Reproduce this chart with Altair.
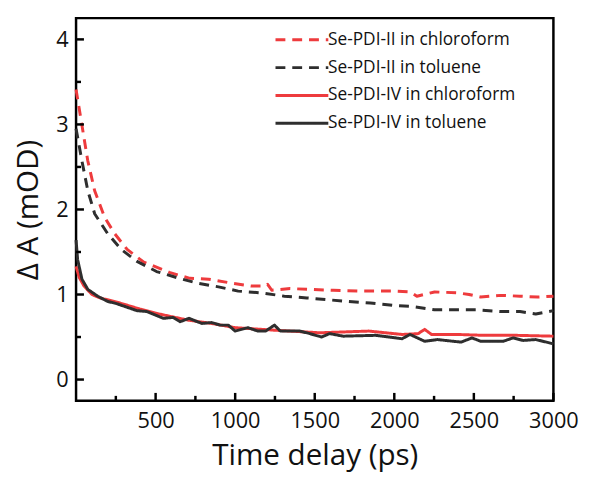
import altair as alt
import pandas as pd

# ---- data ----
series_names = ["Se-PDI-II in chloroform", "Se-PDI-II in toluene",
                "Se-PDI-IV in chloroform", "Se-PDI-IV in toluene"]

t_ii_chl = [0, 37, 74, 117, 179, 241, 321, 426, 549, 586, 716, 833, 957, 1100, 1190, 1204,
            1230, 1345, 1469, 1617, 1800, 2006, 2100, 2142, 2253, 2395, 2470, 2543, 2667,
            2790, 2900, 3000]
v_ii_chl = [3.41, 2.99, 2.57, 2.22, 1.91, 1.72, 1.53, 1.38, 1.29, 1.26, 1.19, 1.18, 1.14, 1.10,
            1.10, 1.12, 1.05, 1.07, 1.06, 1.05, 1.04, 1.04, 1.03, 0.98, 1.03, 1.02, 1.00, 0.97,
            0.99, 0.98, 0.97, 0.98]
t_ii_tol = [0, 37, 74, 117, 197, 284, 383, 506, 648, 772, 895, 1019, 1160, 1309, 1450, 1574,
            1698, 1850, 2006, 2111, 2253, 2518, 2667, 2790, 2889, 3000]
v_ii_tol = [2.95, 2.57, 2.22, 1.95, 1.72, 1.53, 1.39, 1.27, 1.19, 1.13, 1.09, 1.04, 1.02, 0.98,
            0.96, 0.94, 0.92, 0.90, 0.87, 0.86, 0.82, 0.82, 0.80, 0.80, 0.77, 0.81]
t_iv_chl = [0, 20, 50, 100, 150, 257, 400, 500, 700, 850, 1000, 1250, 1531, 1840, 2049, 2150,
            2191, 2234, 2400, 2562, 2765, 3000]
v_iv_chl = [1.33, 1.20, 1.10, 1.00, 0.96, 0.91, 0.83, 0.78, 0.70, 0.66, 0.61, 0.58, 0.55, 0.57,
            0.53, 0.54, 0.59, 0.53, 0.53, 0.52, 0.52, 0.51]
t_iv_tol = [0, 10, 37, 74, 136, 197, 259, 383, 444, 549, 611, 654, 710, 790, 852, 907, 957, 1000,
            1080, 1142, 1191, 1247, 1284, 1407, 1469, 1543, 1593, 1679, 1883, 2049, 2099, 2191,
            2271, 2420, 2488, 2543, 2685, 2747, 2809, 2889, 3000]
v_iv_tol = [1.64, 1.41, 1.18, 1.06, 0.98, 0.92, 0.89, 0.81, 0.80, 0.72, 0.73, 0.68, 0.72, 0.66,
            0.67, 0.64, 0.64, 0.57, 0.61, 0.57, 0.57, 0.64, 0.57, 0.57, 0.54, 0.50, 0.54, 0.51,
            0.52, 0.48, 0.53, 0.45, 0.47, 0.44, 0.49, 0.45, 0.45, 0.49, 0.46, 0.47, 0.42]

y_major = [0, 1, 2, 3, 4]
y_minor = [0.5, 1.5, 2.5, 3.5]
x_major = [500, 1000, 1500, 2000, 2500, 3000]
x_minor = [250, 750, 1250, 1750, 2250, 2750]

RED = "#EE3B3D"
DARK = "#2E2E2E"
FONT = "Open Sans"
W, H = 484, 388

frames = []
for name, t, v in zip(series_names,
                      [t_ii_chl, t_ii_tol, t_iv_chl, t_iv_tol],
                      [v_ii_chl, v_ii_tol, v_iv_chl, v_iv_tol]):
    frames.append(pd.DataFrame({"t": t, "v": v, "series": name}))
df = pd.concat(frames, ignore_index=True)

major_y_df = pd.DataFrame({"yt": y_major})
minor_y_df = pd.DataFrame({"yt": y_minor})
major_x_df = pd.DataFrame({"xt": x_major})
minor_x_df = pd.DataFrame({"xt": x_minor})

xscale = alt.Scale(domain=[0, 3000], nice=False, zero=False)
yscale = alt.Scale(domain=[-0.25, 4.25], nice=False, zero=False)

legend = alt.Legend(title=None, orient="none", legendX=217, legendY=10,
                    labelFont=FONT, labelFontSize=17.5, labelColor="#111",
                    symbolType="M-2.55,0L2.55,0", symbolSize=441,
                    symbolStrokeWidth=3, labelOffset=14.5, rowPadding=7.2,
                    padding=0, labelLimit=400)
color = alt.Color("series:N",
                  scale=alt.Scale(domain=series_names, range=[RED, DARK, RED, DARK]),
                  legend=legend)
dash = alt.StrokeDash("series:N",
                      scale=alt.Scale(domain=series_names,
                                      range=[[10, 7], [10, 7], [1, 0], [1, 0]]),
                      legend=legend)

xaxis = alt.Axis(values=x_major, title="Time delay (ps)", tickSize=0, domain=False,
                 grid=False, labelFont=FONT, labelFontSize=22, labelColor="#111",
                 labelPadding=10, labelFlush=False, titleFont=FONT, titleFontSize=30,
                 titleFontWeight=500, titleColor="#111", titlePadding=10, format="d")
yaxis = alt.Axis(values=y_major, title="Δ A (mOD)", tickSize=0, domain=False, grid=False,
                 labelFont=FONT, labelFontSize=22, labelColor="#111", labelPadding=8,
                 labelFlush=False, titleFont=FONT, titleFontSize=30, titleFontWeight=500,
                 titleColor="#111", titlePadding=12, format="d")

# inward tick marks on the left and bottom frame edges
tick_layers = [
    alt.Chart(major_y_df).mark_rule(color="black", strokeWidth=2.5).encode(
        y=alt.Y("yt:Q", scale=yscale), x=alt.value(0), x2=alt.value(8)),
    alt.Chart(minor_y_df).mark_rule(color="black", strokeWidth=2.5).encode(
        y=alt.Y("yt:Q", scale=yscale), x=alt.value(0), x2=alt.value(5)),
    alt.Chart(major_x_df).mark_rule(color="black", strokeWidth=2.5).encode(
        x=alt.X("xt:Q", scale=xscale), y=alt.value(H), y2=alt.value(H - 8)),
    alt.Chart(minor_x_df).mark_rule(color="black", strokeWidth=2.5).encode(
        x=alt.X("xt:Q", scale=xscale), y=alt.value(H), y2=alt.value(H - 5)),
]

line_layers = []
for name in series_names:
    line_layers.append(
        alt.Chart(df).transform_filter(alt.datum.series == name)
        .mark_line(strokeWidth=3, strokeCap="butt", strokeJoin="round")
        .encode(x=alt.X("t:Q", scale=xscale, axis=xaxis),
                y=alt.Y("v:Q", scale=yscale, axis=yaxis),
                color=color, strokeDash=dash)
    )

chart = alt.layer(*line_layers, *tick_layers).properties(
    width=W, height=H, background="white",
    padding={"top": 7, "left": 6, "right": 4, "bottom": 4},
).configure_view(stroke="black", strokeWidth=2.5)

chart.save("out.html", embed_options={"renderer": "svg", "actions": False})
